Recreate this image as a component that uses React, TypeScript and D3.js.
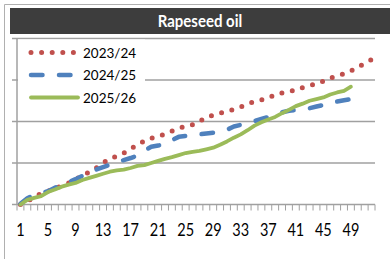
import React from "react";
import * as d3 from "d3";

const categories: number[] = d3.range(1, 53);
const tickLabels: number[] = [1, 5, 9, 13, 17, 21, 25, 29, 33, 37, 41, 45, 49];
const seriesNames: string[] = ["2023/24", "2024/25", "2025/26"];

const s2023: number[] = [
  0, 0.08, 0.17, 0.27, 0.32, 0.38, 0.45, 0.52, 0.6, 0.7, 0.78, 0.88, 1.0, 1.11, 1.16, 1.24, 1.33,
  1.46, 1.52, 1.6, 1.64, 1.7, 1.77, 1.83, 1.89, 1.92, 2.0, 2.1, 2.15, 2.2, 2.25, 2.29, 2.35, 2.42,
  2.48, 2.52, 2.57, 2.64, 2.69, 2.73, 2.75, 2.82, 2.87, 2.9, 2.97, 3.05, 3.09, 3.15, 3.22, 3.31,
  3.4, 3.49,
];
const s2024: number[] = [
  0.02, 0.15, 0.23, 0.28, 0.32, 0.4, 0.48, 0.54, 0.61, 0.69, 0.76, 0.84, 0.9, 0.96, 1.02, 1.07,
  1.12, 1.18, 1.3, 1.39, 1.42, 1.46, 1.55, 1.63, 1.65, 1.67, 1.69, 1.71, 1.73, 1.75, 1.8, 1.88,
  1.92, 1.97, 2.01, 2.06, 2.11, 2.16, 2.22, 2.26, 2.28, 2.29, 2.32, 2.36, 2.4, 2.44, 2.48, 2.51,
  2.54, 2.57,
];
const s2025: number[] = [
  0, 0.11, 0.16, 0.2, 0.3, 0.36, 0.43, 0.48, 0.52, 0.59, 0.64, 0.69, 0.74, 0.79, 0.82, 0.84, 0.88,
  0.93, 0.95, 1.0, 1.05, 1.1, 1.14, 1.19, 1.24, 1.27, 1.29, 1.33, 1.37, 1.44, 1.52, 1.61, 1.69,
  1.79, 1.9, 1.98, 2.05, 2.11, 2.2, 2.28, 2.37, 2.43, 2.5, 2.54, 2.58, 2.65, 2.7, 2.74, 2.84,
];
const yTicks: number[] = [0, 1, 2, 3, 4];

const W = 390;
const H = 259;
const plot = { left: 17, right: 375, top: 38.5, bottom: 204.5 };

const colors = ["#C0504D", "#4F81BD", "#9BBB59"];
const font = "Lato, 'Open Sans', sans-serif";

export default function App() {
  const x = d3
    .scaleBand<number>()
    .domain(categories)
    .range([plot.left, plot.right])
    .padding(0);
  const y = d3.scaleLinear().domain([0, 4]).range([plot.bottom, plot.top]);
  const cx = (c: number) => (x(c) as number) + x.bandwidth() / 2;
  const line = d3
    .line<number>()
    .x((_, i) => cx(categories[i]))
    .y((d) => y(d));

  const styles = [
    { width: 5, dash: "0 10.6" },
    { width: 4.5, dash: "11.5 16.5" },
    { width: 3.8, dash: "none" },
  ];
  const data = [s2023, s2024, s2025];

  const boundaries = d3.range(0, categories.length + 1).map(
    (k) => plot.left + k * x.bandwidth()
  );

  return (
    <svg
      width={W}
      height={H}
      style={{ position: "absolute", left: 0, top: 0, background: "#fff" }}
    >
      {/* outer frame */}
      <line x1={4.5} y1={4.5} x2={W} y2={4.5} stroke="#b0b0b0" strokeWidth={1} />
      <line x1={4.5} y1={4.5} x2={4.5} y2={H} stroke="#b0b0b0" strokeWidth={1} />
      {/* title bar */}
      <rect x={10} y={8} width={W - 10} height={26} fill="#3d3d3d" />
      <text
        x={200}
        y={27}
        textAnchor="middle"
        fill="#fff"
        fontFamily={font}
        fontWeight="bold"
        fontSize={15}
        transform="translate(0,27) scale(1,1.12) translate(0,-27)"
      >
        Rapeseed oil
      </text>
      {/* gridlines */}
      {yTicks.slice(1).map((t) => (
        <line
          key={t}
          x1={plot.left}
          x2={plot.right}
          y1={y(t)}
          y2={y(t)}
          stroke="#a0a0a0"
          strokeWidth={1.5}
        />
      ))}
      {/* y axis */}
      <line x1={plot.left} x2={plot.left} y1={plot.top} y2={plot.bottom} stroke="#a0a0a0" strokeWidth={1.5} />
      {yTicks.map((t) => (
        <line key={t} x1={12} x2={plot.left} y1={y(t)} y2={y(t)} stroke="#a0a0a0" strokeWidth={1.5} />
      ))}
      {/* x axis */}
      <line x1={plot.left} x2={plot.right} y1={plot.bottom} y2={plot.bottom} stroke="#a0a0a0" strokeWidth={1.5} />
      {boundaries.map((bx, i) => (
        <line key={i} x1={bx} x2={bx} y1={plot.bottom} y2={plot.bottom + 6} stroke="#a0a0a0" strokeWidth={1} />
      ))}
      {tickLabels.map((t) => (
        <text
          key={t}
          x={cx(t)}
          y={236}
          textAnchor="middle"
          fontFamily={font}
          fontSize={14.5}
          fill="#000"
          transform="translate(0,236) scale(1,1.2) translate(0,-236)"
        >
          {t}
        </text>
      ))}
      {/* series */}
      {data.map((d, i) => (
        <path
          key={i}
          d={line(d) as string}
          fill="none"
          stroke={colors[i]}
          strokeWidth={styles[i].width}
          strokeDasharray={styles[i].dash}
          strokeLinecap="round"
          strokeLinejoin="round"
        />
      ))}
      {/* legend */}
      <rect x={plot.left + 1} y={plot.top + 1} width={127} height={66} fill="#fff" />
      {seriesNames.map((n, i) => {
        const ly = 52.5 + i * 22.5;
        return (
          <g key={n}>
            <line
              x1={31}
              x2={i === 2 ? 78 : 77}
              y1={ly}
              y2={ly}
              stroke={colors[i]}
              strokeWidth={styles[i].width}
              strokeDasharray={styles[i].dash}
              strokeLinecap="round"
            />
            <text x={83} y={ly + 5} fontFamily={font} fontSize={13.5} fill="#000">
              {n}
            </text>
          </g>
        );
      })}
    </svg>
  );
}
